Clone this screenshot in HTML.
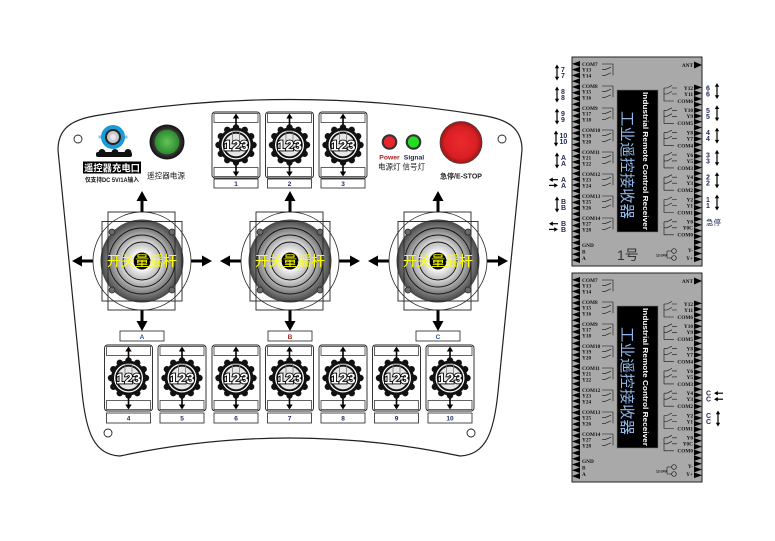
<!DOCTYPE html>
<html><head><meta charset="utf-8"><style>
html,body{margin:0;padding:0;background:#fff;}
svg{display:block;}
text{font-family:"Liberation Sans","Noto Sans CJK SC",sans-serif;}
.rl{font-family:"Liberation Serif","Noto Serif CJK SC",serif;font-weight:bold;font-size:5.3px;fill:#111;}
.rr{font-family:"Liberation Serif","Noto Serif CJK SC",serif;font-weight:bold;font-size:5.3px;fill:#111;text-anchor:end;}
.ext{font-weight:bold;font-size:7px;fill:#1f2a55;}
.kn{font-weight:bold;font-size:15px;fill:#fff;stroke:#000;stroke-width:1.8px;paint-order:stroke;text-anchor:middle;}
.lb{font-weight:bold;font-size:6.5px;fill:#1a2a5a;text-anchor:middle;}
.jy{font-size:14px;fill:#ffff00;text-anchor:middle;}
</style></head><body>
<svg width="775" height="541" viewBox="0 0 775 541" xmlns="http://www.w3.org/2000/svg">
<defs>
<radialGradient id="gd"><stop offset="0.79" stop-color="#828282"/><stop offset="1" stop-color="#464646"/></radialGradient>
<radialGradient id="g1"><stop offset="0.78" stop-color="#b4b4b4"/><stop offset="1" stop-color="#7a7a7a"/></radialGradient>
<radialGradient id="g2"><stop offset="0.73" stop-color="#dadada"/><stop offset="1" stop-color="#a2a2a2"/></radialGradient>
<radialGradient id="g3"><stop offset="0.45" stop-color="#fafafa"/><stop offset="1" stop-color="#bababa"/></radialGradient>
<radialGradient id="gr"><stop offset="0" stop-color="#ec2a2e"/><stop offset="0.75" stop-color="#d91f24"/><stop offset="1" stop-color="#9a1616"/></radialGradient>
<radialGradient id="gg"><stop offset="0" stop-color="#62c45c"/><stop offset="1" stop-color="#2c8a2c"/></radialGradient>
<radialGradient id="gk"><stop offset="0.7" stop-color="#3a3a3a"/><stop offset="1" stop-color="#111"/></radialGradient>
<g id="knob">
<circle r="17.5" fill="#111"/>
<g fill="#111">
<circle cx="17.5" cy="0" r="3.2"/><circle cx="15.16" cy="8.75" r="3.2"/><circle cx="8.75" cy="15.16" r="3.2"/>
<circle cx="0" cy="17.5" r="3.2"/><circle cx="-8.75" cy="15.16" r="3.2"/><circle cx="-15.16" cy="8.75" r="3.2"/>
<circle cx="-17.5" cy="0" r="3.2"/><circle cx="-15.16" cy="-8.75" r="3.2"/><circle cx="-8.75" cy="-15.16" r="3.2"/>
<circle cx="0" cy="-17.5" r="3.2"/><circle cx="8.75" cy="-15.16" r="3.2"/><circle cx="15.16" cy="-8.75" r="3.2"/>
</g>
<circle r="14.5" fill="#fff"/>
<circle r="12.3" fill="#e6e6e6" stroke="#111" stroke-width="1.8"/>
<rect x="-3.5" y="-14" width="7" height="13" rx="1.5" fill="none" stroke="#777" stroke-width="0.8"/>
</g>
<g id="mod">
<rect x="0" y="0" width="48" height="66" rx="3" fill="#fff" stroke="#222" stroke-width="0.9"/>
<rect x="2" y="1.5" width="44" height="9" fill="#fff" stroke="#222" stroke-width="0.7"/>
<rect x="2" y="55.5" width="44" height="9" fill="#fff" stroke="#222" stroke-width="0.7"/>
<path d="M24,4V14M24,52V62" stroke="#000" stroke-width="1.6"/>
<path d="M24,1.5L20.8,6.5H27.2ZM24,64.5L20.8,59.5H27.2Z" fill="#000"/>
<use href="#knob" x="24" y="33"/>
</g>
<g id="joy">
<path d="M0,-49V-61M0,49V61M-49,0H-61M49,0H61" stroke="#000" stroke-width="3"/>
<path d="M0,-70L-5.5,-60H5.5ZM0,70L-5.5,60H5.5ZM-70,0L-60,-5.5V5.5ZM70,0L60,-5.5V5.5Z" fill="#000"/>
<circle r="49" fill="none" stroke="#222" stroke-width="0.8"/>
<circle r="41.5" fill="url(#gd)"/>
<circle r="33" fill="url(#g1)" stroke="#111" stroke-width="0.9"/>
<circle r="26" fill="url(#g2)" stroke="#111" stroke-width="0.9"/>
<circle r="19" fill="url(#g3)" stroke="#111" stroke-width="0.9"/>
<circle r="8.5" fill="#000"/>
<g fill="#6a6a6a" stroke="#222" stroke-width="0.7">
<circle cx="-30" cy="-29" r="3"/><circle cx="30" cy="-29" r="3"/><circle cx="-30" cy="29" r="3"/><circle cx="30" cy="29" r="3"/></g>
<rect x="-34" y="-49" width="67" height="98" fill="none" stroke="#222" stroke-width="0.9"/>
<rect x="-40" y="-39.5" width="80" height="79.5" fill="none" stroke="#222" stroke-width="0.9"/>
</g>
<g id="va"><path d="M0,-5V5" stroke="#000" stroke-width="1.2"/><path d="M0,-8L-2.2,-4.3H2.2ZM0,8L-2.2,4.3H2.2Z" fill="#000"/></g>
<g id="hl"><path d="M3,0H9" stroke="#000" stroke-width="1.2"/><path d="M0,0L3.8,-2.2V2.2Z" fill="#000"/></g>
<g id="hr"><path d="M0,0H6" stroke="#000" stroke-width="1.2"/><path d="M9,0L5.2,-2.2V2.2Z" fill="#000"/></g>
<g id="rcv">
<rect x="572" y="57" width="130" height="209" fill="#a9a9a9" stroke="#222" stroke-width="1"/>
<path fill="#000" d="M580,61 l-8,2.885 8,2.885 -8,2.885 8,2.885 -8,2.885 8,2.885 -8,2.885 8,2.885 -8,2.885 8,2.885
 -8,2.885 8,2.885 -8,2.885 8,2.885 -8,2.885 8,2.885 -8,2.885 8,2.885 -8,2.885 8,2.885
 -8,2.885 8,2.885 -8,2.885 8,2.885 -8,2.885 8,2.885 -8,2.885 8,2.885 -8,2.885 8,2.885
 -8,2.885 8,2.885 -8,2.885 8,2.885 -8,2.885 8,2.885 -8,2.885 8,2.885 -8,2.885 8,2.885
 -8,2.885 8,2.885 -8,2.885 8,2.885 -8,2.885 8,2.885 -8,2.885 8,2.885 -8,2.885 8,2.885
 -8,2.885 8,2.885 -8,2.885 8,2.885 -8,2.885 8,2.885 -8,2.885 8,2.885 -8,2.885 8,2.885
 -8,2.885 8,2.885 -8,2.885 8,2.885 -8,2.885 8,2.885 -8,2.885 8,2.885 -8,2.885 8,2.885 Z"/>
<path fill="#000" d="M694,61.5L702,65L694,68.5Z"/>
<path fill="#000" d="M694,84.5 l8,2.865 -8,2.865 8,2.865 -8,2.865 8,2.865 -8,2.865 8,2.865 -8,2.865 8,2.865 -8,2.865
 8,2.865 -8,2.865 8,2.865 -8,2.865 8,2.865 -8,2.865 8,2.865 -8,2.865 8,2.865 -8,2.865
 8,2.865 -8,2.865 8,2.865 -8,2.865 8,2.865 -8,2.865 8,2.865 -8,2.865 8,2.865 -8,2.865
 8,2.865 -8,2.865 8,2.865 -8,2.865 8,2.865 -8,2.865 8,2.865 -8,2.865 8,2.865 -8,2.865
 8,2.865 -8,2.865 8,2.865 -8,2.865 8,2.865 -8,2.865 8,2.865 -8,2.865 8,2.865 -8,2.865
 8,2.865 -8,2.865 8,2.865 -8,2.865 8,2.865 -8,2.865 8,2.865 -8,2.865 8,2.865 -8,2.865
 8,2.865 -8,2.865 Z"/>
<rect x="617" y="90" width="41" height="142" fill="#000" stroke="#777" stroke-width="0.6"/>
<path fill="none" stroke="#111" stroke-width="0.6" d="M602,64H613V75.4M602,69.7h3l6,-2.5M602,75.4h3l6,-2.5
M602,86H613V97.4M602,91.7h3l6,-2.5M602,97.4h3l6,-2.5
M602,108H613V119.4M602,113.7h3l6,-2.5M602,119.4h3l6,-2.5
M602,130H613V141.4M602,135.7h3l6,-2.5M602,141.4h3l6,-2.5
M602,152H613V163.4M602,157.7h3l6,-2.5M602,163.4h3l6,-2.5
M602,174H613V185.4M602,179.7h3l6,-2.5M602,185.4h3l6,-2.5
M602,196H613V207.4M602,201.7h3l6,-2.5M602,207.4h3l6,-2.5
M602,218H613V229.4M602,223.7h3l6,-2.5M602,229.4h3l6,-2.5
M664,88V101H674M664,88h3l5,-2.5M672,88h5M664,94h3l5,-2.5M672,94h5
M664,110.3V123.3H674M664,110.3h3l5,-2.5M672,110.3h5M664,116.3h3l5,-2.5M672,116.3h5
M664,132.6V145.6H674M664,132.6h3l5,-2.5M672,132.6h5M664,138.6h3l5,-2.5M672,138.6h5
M664,154.9V167.9H674M664,154.9h3l5,-2.5M672,154.9h5M664,160.9h3l5,-2.5M672,160.9h5
M664,177.2V190.2H674M664,177.2h3l5,-2.5M672,177.2h5M664,183.2h3l5,-2.5M672,183.2h5
M664,199.5V212.5H674M664,199.5h3l5,-2.5M672,199.5h5M664,205.5h3l5,-2.5M672,205.5h5
M664,221.8V234.8H674M664,221.8h3l5,-2.5M672,221.8h5M664,227.8h3l5,-2.5M672,227.8h5
M667,251H671.7M667,258H671.7M667,251V258"/>
<circle cx="674" cy="251" r="2.3" fill="none" stroke="#111" stroke-width="0.7"/>
<circle cx="674" cy="258" r="2.3" fill="none" stroke="#111" stroke-width="0.7"/>
</g>
</defs>

<!-- panel outline -->
<path d="M58,150 C58,128 72,119 100,115 Q290,84 480,115 C508,119 522,128 522,150 L498,392 C494,432 486,455 460,456 Q290,420 120,456 C94,455 86,432 82,392 Z" fill="#fff" stroke="#222" stroke-width="1.2"/>
<g fill="#fff" stroke="#222" stroke-width="0.9">
<circle cx="78" cy="139" r="4"/><circle cx="502" cy="139" r="4"/><circle cx="108" cy="433" r="4"/><circle cx="471" cy="433" r="4"/>
</g>

<!-- charging port -->
<rect x="98.5" y="135.5" width="4" height="3" fill="#7fc8ee"/>
<rect x="123.5" y="135.5" width="4" height="3" fill="#7fc8ee"/>
<circle cx="113" cy="137" r="12" fill="#1a9ad6"/>
<circle cx="113" cy="137" r="8" fill="#222"/>
<circle cx="113" cy="137" r="6" fill="#c8c8c8"/>
<circle cx="113" cy="137" r="3" fill="#e8e8e8"/>
<rect x="96" y="152" width="36" height="5" rx="2" fill="#111"/>
<circle cx="102" cy="152.5" r="3.5" fill="#111"/><circle cx="115" cy="152.5" r="3.5" fill="#111"/><circle cx="128" cy="152.5" r="3.5" fill="#111"/>
<rect x="83" y="161.5" width="58" height="12" fill="#000"/>
<text x="112" y="171.5" font-size="9.5" font-weight="bold" fill="#fff" text-anchor="middle" textLength="56" lengthAdjust="spacingAndGlyphs">遥控器充电口</text>
<text x="112" y="182" font-size="6" font-weight="bold" fill="#111" text-anchor="middle" textLength="54" lengthAdjust="spacingAndGlyphs">仅支持DC 5V/1A输入</text>

<!-- power button -->
<circle cx="167" cy="142" r="17.5" fill="url(#gk)"/>
<circle cx="167" cy="142" r="12.3" fill="url(#gg)"/>
<text x="166" y="178.5" font-size="8" fill="#222" text-anchor="middle" textLength="38" lengthAdjust="spacingAndGlyphs">遥控器电源</text>

<!-- LEDs -->
<circle cx="389.5" cy="142" r="7.8" fill="#333"/><circle cx="389.5" cy="142" r="5.6" fill="#e8252a"/>
<circle cx="413.5" cy="142" r="7.8" fill="#333"/><circle cx="413.5" cy="142" r="5.6" fill="#22dd22"/>
<text x="389.5" y="159.5" font-size="6.8" font-weight="bold" fill="#a62020" text-anchor="middle">Power</text>
<text x="414" y="159.5" font-size="6.8" font-weight="bold" fill="#1e2244" text-anchor="middle">Signal</text>
<text x="401.5" y="169.5" font-size="8" fill="#222" text-anchor="middle" textLength="47" lengthAdjust="spacingAndGlyphs">电源灯 信号灯</text>

<!-- E-stop -->
<circle cx="461" cy="142.5" r="21" fill="url(#gr)" stroke="#444" stroke-width="0.8"/>
<text x="461" y="178.5" font-size="7" font-weight="bold" fill="#222" text-anchor="middle" textLength="42" lengthAdjust="spacingAndGlyphs">急停/E-STOP</text>

<!-- top modules -->
<use href="#mod" x="212" y="112"/>
<use href="#mod" x="265.5" y="112"/>
<use href="#mod" x="319" y="112"/>
<rect x="214" y="179" width="44" height="9" fill="#fff" stroke="#222" stroke-width="0.8"/>
<rect x="267.5" y="179" width="44" height="9" fill="#fff" stroke="#222" stroke-width="0.8"/>
<rect x="321" y="179" width="44" height="9" fill="#fff" stroke="#222" stroke-width="0.8"/>
<text class="kn" x="236" y="150.5" textLength="25" lengthAdjust="spacingAndGlyphs">123</text>
<text class="kn" x="289.5" y="150.5" textLength="25" lengthAdjust="spacingAndGlyphs">123</text>
<text class="kn" x="343" y="150.5" textLength="25" lengthAdjust="spacingAndGlyphs">123</text>
<text class="lb" x="236" y="186">1</text>
<text class="lb" x="289.5" y="186">2</text>
<text class="lb" x="343" y="186">3</text>

<!-- joysticks -->
<use href="#joy" x="142" y="261"/>
<use href="#joy" x="290" y="261"/>
<use href="#joy" x="438" y="261"/>
<text class="jy" x="142" y="266" textLength="70" lengthAdjust="spacingAndGlyphs">开关量摇杆</text>
<text class="jy" x="290" y="266" textLength="70" lengthAdjust="spacingAndGlyphs">开关量摇杆</text>
<text class="jy" x="438" y="266" textLength="70" lengthAdjust="spacingAndGlyphs">开关量摇杆</text>
<rect x="120" y="331" width="44" height="10" fill="#fff" stroke="#222" stroke-width="0.8"/>
<rect x="268" y="331" width="44" height="10" fill="#fff" stroke="#222" stroke-width="0.8"/>
<rect x="416" y="331" width="44" height="10" fill="#fff" stroke="#222" stroke-width="0.8"/>
<text class="lb" x="142" y="338.8" style="fill:#2a55a0">A</text>
<text class="lb" x="290" y="338.8" style="fill:#a0302a">B</text>
<text class="lb" x="438" y="338.8" style="fill:#2a55a0">C</text>

<!-- bottom modules -->
<use href="#mod" x="104.5" y="345"/>
<use href="#mod" x="158" y="345"/>
<use href="#mod" x="212" y="345"/>
<use href="#mod" x="265.5" y="345"/>
<use href="#mod" x="319" y="345"/>
<use href="#mod" x="372.5" y="345"/>
<use href="#mod" x="426" y="345"/>
<g fill="#fff" stroke="#222" stroke-width="0.8">
<rect x="106.5" y="413" width="44" height="10"/><rect x="160" y="413" width="44" height="10"/>
<rect x="214" y="413" width="44" height="10"/><rect x="267.5" y="413" width="44" height="10"/>
<rect x="321" y="413" width="44" height="10"/><rect x="374.5" y="413" width="44" height="10"/>
<rect x="428" y="413" width="44" height="10"/>
</g>
<text class="kn" x="128.5" y="383.5" textLength="25" lengthAdjust="spacingAndGlyphs">123</text>
<text class="kn" x="182" y="383.5" textLength="25" lengthAdjust="spacingAndGlyphs">123</text>
<text class="kn" x="236" y="383.5" textLength="25" lengthAdjust="spacingAndGlyphs">123</text>
<text class="kn" x="289.5" y="383.5" textLength="25" lengthAdjust="spacingAndGlyphs">123</text>
<text class="kn" x="343" y="383.5" textLength="25" lengthAdjust="spacingAndGlyphs">123</text>
<text class="kn" x="396.5" y="383.5" textLength="25" lengthAdjust="spacingAndGlyphs">123</text>
<text class="kn" x="450" y="383.5" textLength="25" lengthAdjust="spacingAndGlyphs">123</text>
<text class="lb" x="128.5" y="420.5">4</text>
<text class="lb" x="182" y="420.5">5</text>
<text class="lb" x="236" y="420.5">6</text>
<text class="lb" x="289.5" y="420.5">7</text>
<text class="lb" x="343" y="420.5">8</text>
<text class="lb" x="396.5" y="420.5">9</text>
<text class="lb" x="450" y="420.5">10</text>

<!-- receivers -->
<use href="#rcv"/>
<use href="#rcv" y="216"/>

<text transform="translate(643,92) rotate(90)" font-weight="bold" font-size="7.3" fill="#fff" textLength="138" lengthAdjust="spacingAndGlyphs">Industrial Remote Control Receiver</text>
<text transform="translate(643,308) rotate(90)" font-weight="bold" font-size="7.3" fill="#fff" textLength="138" lengthAdjust="spacingAndGlyphs">Industrial Remote Control Receiver</text>
<text transform="translate(622,111) rotate(90)" font-size="15" fill="#8fb8ea" textLength="108" lengthAdjust="spacingAndGlyphs">工业遥控接收器</text>
<text transform="translate(622,327) rotate(90)" font-size="15" fill="#8fb8ea" textLength="108" lengthAdjust="spacingAndGlyphs">工业遥控接收器</text>
<text x="617" y="260" font-size="14" fill="#333">1号</text>
<text x="656" y="256.5" font-size="3.4" font-weight="bold" fill="#111">12-24V</text>
<text x="656" y="472.5" font-size="3.4" font-weight="bold" fill="#111">12-24V</text>

<!-- R1 left labels -->
<text class="rl" x="582" y="65.9">COM7</text><text class="rl" x="582" y="71.6">Y13</text><text class="rl" x="582" y="77.3">Y14</text>
<text class="rl" x="582" y="87.9">COM8</text><text class="rl" x="582" y="93.6">Y15</text><text class="rl" x="582" y="99.3">Y16</text>
<text class="rl" x="582" y="109.9">COM9</text><text class="rl" x="582" y="115.6">Y17</text><text class="rl" x="582" y="121.3">Y18</text>
<text class="rl" x="582" y="131.9">COM10</text><text class="rl" x="582" y="137.6">Y19</text><text class="rl" x="582" y="143.3">Y20</text>
<text class="rl" x="582" y="153.9">COM11</text><text class="rl" x="582" y="159.6">Y21</text><text class="rl" x="582" y="165.3">Y22</text>
<text class="rl" x="582" y="175.9">COM12</text><text class="rl" x="582" y="181.6">Y23</text><text class="rl" x="582" y="187.3">Y24</text>
<text class="rl" x="582" y="197.9">COM13</text><text class="rl" x="582" y="203.6">Y25</text><text class="rl" x="582" y="209.3">Y26</text>
<text class="rl" x="582" y="219.9">COM14</text><text class="rl" x="582" y="225.6">Y27</text><text class="rl" x="582" y="231.3">Y28</text>
<text class="rl" x="582" y="246.9">GND</text><text class="rl" x="582" y="253.4">B</text><text class="rl" x="582" y="259.9">A</text>
<!-- R2 left labels -->
<text class="rl" x="582" y="281.9">COM7</text><text class="rl" x="582" y="287.6">Y13</text><text class="rl" x="582" y="293.3">Y14</text>
<text class="rl" x="582" y="303.9">COM8</text><text class="rl" x="582" y="309.6">Y15</text><text class="rl" x="582" y="315.3">Y16</text>
<text class="rl" x="582" y="325.9">COM9</text><text class="rl" x="582" y="331.6">Y17</text><text class="rl" x="582" y="337.3">Y18</text>
<text class="rl" x="582" y="347.9">COM10</text><text class="rl" x="582" y="353.6">Y19</text><text class="rl" x="582" y="359.3">Y20</text>
<text class="rl" x="582" y="369.9">COM11</text><text class="rl" x="582" y="375.6">Y21</text><text class="rl" x="582" y="381.3">Y22</text>
<text class="rl" x="582" y="391.9">COM12</text><text class="rl" x="582" y="397.6">Y23</text><text class="rl" x="582" y="403.3">Y24</text>
<text class="rl" x="582" y="413.9">COM13</text><text class="rl" x="582" y="419.6">Y25</text><text class="rl" x="582" y="425.3">Y26</text>
<text class="rl" x="582" y="435.9">COM14</text><text class="rl" x="582" y="441.6">Y27</text><text class="rl" x="582" y="447.3">Y28</text>
<text class="rl" x="582" y="462.9">GND</text><text class="rl" x="582" y="469.4">B</text><text class="rl" x="582" y="475.9">A</text>

<!-- R1 right labels -->
<text class="rr" x="693" y="66.9">ANT</text>
<text class="rr" x="693" y="89.9">Y12</text><text class="rr" x="693" y="95.9">Y11</text><text class="rr" x="693" y="102.9">COM6</text>
<text class="rr" x="693" y="112.2">Y10</text><text class="rr" x="693" y="118.2">Y9</text><text class="rr" x="693" y="125.2">COM5</text>
<text class="rr" x="693" y="134.5">Y8</text><text class="rr" x="693" y="140.5">Y7</text><text class="rr" x="693" y="147.5">COM4</text>
<text class="rr" x="693" y="156.8">Y6</text><text class="rr" x="693" y="162.8">Y5</text><text class="rr" x="693" y="169.8">COM3</text>
<text class="rr" x="693" y="179.1">Y4</text><text class="rr" x="693" y="185.1">Y3</text><text class="rr" x="693" y="192.1">COM2</text>
<text class="rr" x="693" y="201.4">Y2</text><text class="rr" x="693" y="207.4">Y1</text><text class="rr" x="693" y="214.4">COM1</text>
<text class="rr" x="693" y="223.7">Y0</text><text class="rr" x="693" y="229.7">Y0C</text><text class="rr" x="693" y="236.7">COM0</text>
<text class="rr" x="693" y="251.9">Y-</text><text class="rr" x="693" y="259.9">Y+</text>
<!-- R2 right labels -->
<text class="rr" x="693" y="282.9">ANT</text>
<text class="rr" x="693" y="305.9">Y12</text><text class="rr" x="693" y="311.9">Y11</text><text class="rr" x="693" y="318.9">COM6</text>
<text class="rr" x="693" y="328.2">Y10</text><text class="rr" x="693" y="334.2">Y9</text><text class="rr" x="693" y="341.2">COM5</text>
<text class="rr" x="693" y="350.5">Y8</text><text class="rr" x="693" y="356.5">Y7</text><text class="rr" x="693" y="363.5">COM4</text>
<text class="rr" x="693" y="372.8">Y6</text><text class="rr" x="693" y="378.8">Y5</text><text class="rr" x="693" y="385.8">COM3</text>
<text class="rr" x="693" y="395.1">Y4</text><text class="rr" x="693" y="401.1">Y3</text><text class="rr" x="693" y="408.1">COM2</text>
<text class="rr" x="693" y="417.4">Y2</text><text class="rr" x="693" y="423.4">Y1</text><text class="rr" x="693" y="430.4">COM1</text>
<text class="rr" x="693" y="439.7">Y0</text><text class="rr" x="693" y="445.7">Y0C</text><text class="rr" x="693" y="452.7">COM0</text>
<text class="rr" x="693" y="467.9">Y-</text><text class="rr" x="693" y="475.9">Y+</text>

<!-- R1 left externals -->
<use href="#va" x="557" y="72.5"/><text class="ext" x="561" y="72.2">7</text><text class="ext" x="561" y="77.9">7</text>
<use href="#va" x="557" y="94.5"/><text class="ext" x="561" y="94.2">8</text><text class="ext" x="561" y="99.9">8</text>
<use href="#va" x="557" y="116.5"/><text class="ext" x="561" y="116.2">9</text><text class="ext" x="561" y="121.9">9</text>
<use href="#va" x="556" y="138.5"/><text class="ext" x="559.5" y="138.2">10</text><text class="ext" x="559.5" y="143.9">10</text>
<use href="#va" x="557" y="160.5"/><text class="ext" x="561" y="160.2">A</text><text class="ext" x="561" y="165.9">A</text>
<use href="#hl" x="549" y="179.7"/><use href="#hr" x="549" y="185.4"/><text class="ext" x="561" y="182.2">A</text><text class="ext" x="561" y="187.9">A</text>
<use href="#va" x="557" y="204.5"/><text class="ext" x="561" y="204.2">B</text><text class="ext" x="561" y="209.9">B</text>
<use href="#hl" x="549" y="223.7"/><use href="#hr" x="549" y="229.4"/><text class="ext" x="561" y="226.2">B</text><text class="ext" x="561" y="231.9">B</text>

<!-- R1 right externals -->
<text class="ext" x="706" y="90.5">6</text><text class="ext" x="706" y="96.5">6</text><use href="#va" x="717" y="91"/>
<text class="ext" x="706" y="112.8">5</text><text class="ext" x="706" y="118.8">5</text><use href="#va" x="717" y="113.3"/>
<text class="ext" x="706" y="135.1">4</text><text class="ext" x="706" y="141.1">4</text><use href="#va" x="717" y="135.6"/>
<text class="ext" x="706" y="157.4">3</text><text class="ext" x="706" y="163.4">3</text><use href="#va" x="717" y="157.9"/>
<text class="ext" x="706" y="179.7">2</text><text class="ext" x="706" y="185.7">2</text><use href="#va" x="717" y="180.2"/>
<text class="ext" x="706" y="202">1</text><text class="ext" x="706" y="208">1</text><use href="#va" x="717" y="202.5"/>
<text x="706" y="225" font-size="7.5" fill="#1f2a55" textLength="15" lengthAdjust="spacingAndGlyphs">急停</text>

<!-- R2 right externals -->
<text class="ext" x="706" y="395.7">C</text><text class="ext" x="706" y="401.7">C</text>
<use href="#hl" x="714" y="393.2"/><use href="#hl" x="714" y="399.2"/>
<text class="ext" x="706" y="418">C</text><text class="ext" x="706" y="424">C</text>
<use href="#va" x="718" y="418.5"/>
</svg>
</body></html>
